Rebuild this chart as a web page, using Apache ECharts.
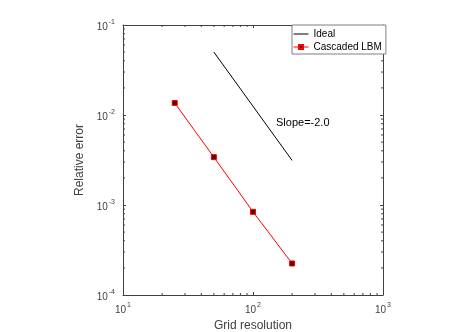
<!DOCTYPE html>
<html>
<head>
<meta charset="utf-8">
<script src="https://cdn.jsdelivr.net/npm/echarts@6/dist/echarts.min.js"></script>
<style>
  html, body {margin: 0; padding: 0; background: #fff;}
  #chart {width: 452px; height: 332px;}
</style>
</head>
<body>
<div id="chart"></div>
<script>
// grid resolution vs relative error
const gridRes = [25, 50, 100, 200];
const lbmError = [0.0136, 0.00340, 0.000840, 0.000224];
const idealRes = [50, 200];
const idealError = [0.05, 0.003125];

const xRange = [10, 1000];
const yRange = [1e-4, 1e-1];
const xMinorTicks = [20, 30, 40, 50, 60, 70, 80, 90, 200, 300, 400, 500, 600, 700, 800, 900];
const yMinorTicks = [2e-4, 3e-4, 4e-4, 5e-4, 6e-4, 7e-4, 8e-4, 9e-4,
    2e-3, 3e-3, 4e-3, 5e-3, 6e-3, 7e-3, 8e-3, 9e-3,
    2e-2, 3e-2, 4e-2, 5e-2, 6e-2, 7e-2, 8e-2, 9e-2];

const axisColor = '#404040';
const font = 'Liberation Sans, Arial, Helvetica, sans-serif';

const powLabel = v => '{b|10}{s|' + Math.round(Math.log10(v)) + '}';
const labelRich = {
    b: {fontSize: 10, fontFamily: font, color: axisColor, padding: [4, 0, 0, 0]},
    s: {fontSize: 7, fontFamily: font, color: axisColor, padding: [0, 0, 5, 1]}
};

const baseAxis = {
    type: 'log',
    logBase: 10,
    axisLine: {show: true, lineStyle: {color: axisColor, width: 1}},
    axisTick: {show: true, inside: true, length: 3, lineStyle: {color: axisColor}},
    splitLine: {show: false},
    minorTick: {show: false},
};

const chart = echarts.init(document.getElementById('chart'), null, {renderer: 'canvas'});

const tickSeg = (x1, y1, x2, y2) => ({
    type: 'line',
    shape: {x1: x1, y1: y1, x2: x2, y2: y2},
    style: {stroke: axisColor, lineWidth: 1}
});

chart.setOption({
    animation: false,
    backgroundColor: '#fff',
    grid: {left: 123, right: 69, top: 25, bottom: 37, containLabel: false, outerBoundsMode: 'none'},
    xAxis: [
        Object.assign({}, baseAxis, {
            min: xRange[0], max: xRange[1], position: 'bottom',
            axisLabel: {formatter: powLabel, rich: labelRich, margin: 6},
            name: 'Grid resolution', nameLocation: 'middle', nameGap: 23,
            nameTextStyle: {fontSize: 12, fontFamily: font, color: axisColor}
        }),
        Object.assign({}, baseAxis, {
            min: xRange[0], max: xRange[1], position: 'top',
            axisLabel: {show: false}
        })
    ],
    yAxis: [
        Object.assign({}, baseAxis, {
            min: yRange[0], max: yRange[1], position: 'left',
            axisLabel: {formatter: powLabel, rich: labelRich, margin: 8},
            name: 'Relative error', nameLocation: 'middle', nameGap: 30,
            nameTextStyle: {fontSize: 12, fontFamily: font, color: axisColor}
        }),
        Object.assign({}, baseAxis, {
            min: yRange[0], max: yRange[1], position: 'right',
            axisLabel: {show: false}
        })
    ],
    legend: {
        orient: 'vertical',
        left: 292, top: 25,
        padding: [3, 4, 1, 1],
        itemGap: 1,
        itemWidth: 15, itemHeight: 5,
        backgroundColor: '#fff',
        borderColor: '#808080', borderWidth: 1, borderRadius: 0,
        lineStyle: {width: 1},
        textStyle: {fontSize: 10, fontFamily: font, color: '#000', lineHeight: 12},
        data: [{name: 'Ideal', itemStyle: {opacity: 0}}, 'Cascaded LBM']
    },
    graphic: [{
        type: 'text', left: 276, top: 117,
        style: {text: 'Slope=-2.0', fontSize: 11, fontFamily: font, fill: '#000'}
    }],
    series: [
        {
            name: 'Ideal', type: 'line',
            data: idealRes.map((x, i) => [x, idealError[i]]),
            symbol: 'none', showSymbol: false,
            lineStyle: {color: '#000', width: 1},
            itemStyle: {color: '#000'}
        },
        {
            name: 'Cascaded LBM', type: 'line',
            data: gridRes.map((x, i) => [x, lbmError[i]]),
            symbol: 'rect', symbolSize: 5,
            lineStyle: {color: '#ff0000', width: 1},
            itemStyle: {color: '#5a0000', borderColor: '#ff0000', borderWidth: 1}
        },
        {
            // minor ticks, bottom and top
            type: 'custom', silent: true, clip: false,
            data: xMinorTicks.map(v => [v, yRange[0]]),
            renderItem: (params, api) => {
                const b = api.coord([api.value(0), yRange[0]]);
                const t = api.coord([api.value(0), yRange[1]]);
                return {type: 'group', children: [
                    tickSeg(b[0], b[1], b[0], b[1] - 2),
                    tickSeg(t[0], t[1], t[0], t[1] + 2)
                ]};
            }
        },
        {
            // minor ticks, left and right
            type: 'custom', silent: true, clip: false,
            data: yMinorTicks.map(v => [xRange[0], v]),
            renderItem: (params, api) => {
                const l = api.coord([xRange[0], api.value(1)]);
                const r = api.coord([xRange[1], api.value(1)]);
                return {type: 'group', children: [
                    tickSeg(l[0], l[1], l[0] + 2, l[1]),
                    tickSeg(r[0], r[1], r[0] - 2, r[1])
                ]};
            }
        }
    ]
});
</script>
</body>
</html>
